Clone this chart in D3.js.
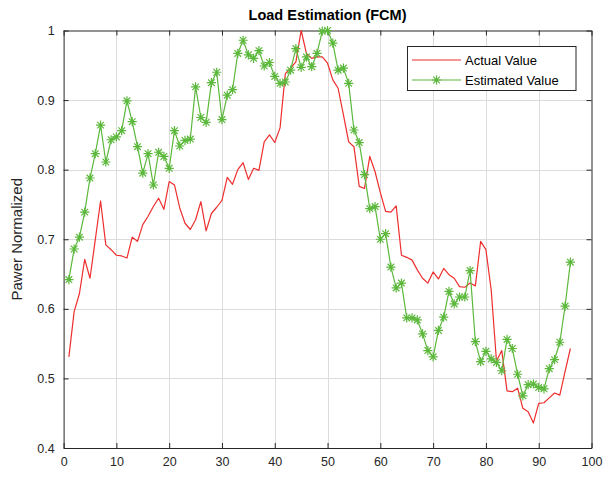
<!DOCTYPE html>
<html>
<head>
<meta charset="utf-8">
<script src="https://cdn.jsdelivr.net/npm/d3@7"></script>
<style>
  html, body { margin: 0; padding: 0; background: #fff; }
  svg { display: block; font-family: "Liberation Sans", Arial, Helvetica, sans-serif; }
</style>
</head>
<body>
<svg id="chart" width="604" height="479"></svg>
<script>
// Hourly samples 1..96 of normalized load
const actualValue = [
  0.531, 0.596, 0.622, 0.671, 0.644, 0.699, 0.755, 0.692, 0.685, 0.677,
  0.676, 0.673, 0.703, 0.697, 0.721, 0.733, 0.747, 0.759, 0.743, 0.783,
  0.778, 0.745, 0.723, 0.714, 0.728, 0.754, 0.712, 0.737, 0.746, 0.756,
  0.789, 0.779, 0.800, 0.810, 0.786, 0.802, 0.799, 0.840, 0.850, 0.839,
  0.860, 0.938, 0.946, 0.955, 1.000, 0.967, 0.960, 0.962, 0.962, 0.953,
  0.929, 0.917, 0.879, 0.840, 0.833, 0.776, 0.773, 0.819, 0.797, 0.767,
  0.740, 0.739, 0.748, 0.677, 0.674, 0.670, 0.656, 0.644, 0.637, 0.653,
  0.643, 0.658, 0.649, 0.644, 0.632, 0.631, 0.637, 0.633, 0.697, 0.685,
  0.627, 0.525, 0.540, 0.482, 0.481, 0.486, 0.457, 0.452, 0.436, 0.464,
  0.465, 0.472, 0.479, 0.476, 0.510, 0.543
];
const estimatedValue = [
  0.642, 0.686, 0.703, 0.739, 0.788, 0.823, 0.864, 0.811, 0.843, 0.847,
  0.856, 0.899, 0.869, 0.833, 0.795, 0.823, 0.778, 0.825, 0.819, 0.802,
  0.856, 0.834, 0.842, 0.844, 0.919, 0.875, 0.868, 0.925, 0.940, 0.872,
  0.907, 0.915, 0.967, 0.986, 0.965, 0.960, 0.971, 0.949, 0.954, 0.934,
  0.924, 0.926, 0.943, 0.974, 0.947, 0.962, 0.948, 0.967, 0.999, 1.000,
  0.982, 0.943, 0.946, 0.924, 0.857, 0.839, 0.793, 0.744, 0.747, 0.700,
  0.708, 0.660, 0.630, 0.637, 0.587, 0.587, 0.584, 0.564, 0.540, 0.531,
  0.569, 0.588, 0.625, 0.607, 0.617, 0.617, 0.655, 0.553, 0.524, 0.539,
  0.528, 0.523, 0.511, 0.556, 0.543, 0.506, 0.475, 0.491, 0.492, 0.487,
  0.485, 0.514, 0.527, 0.552, 0.604, 0.667
];
const xTicks = [0, 10, 20, 30, 40, 50, 60, 70, 80, 90, 100];
const yTicks = [0.4, 0.5, 0.6, 0.7, 0.8, 0.9, 1];
const seriesNames = ["Actual Value", "Estimated Value"];
const titleText = "Load Estimation (FCM)";
const yLabelText = "Pawer Normalized";

const svg = d3.select("#chart");
const m = { left: 63.6, right: 591.5, top: 30.5, bottom: 448 };
const axisColor = "#262626";
const redColor = "#ee2e2e";
const greenColor = "#5bb83b";

const x = d3.scaleLinear().domain([0, 100]).range([m.left, m.right]);
const y = d3.scaleLinear().domain([0.4, 1]).range([m.bottom, m.top]);

// grid
const grid = svg.append("g").attr("stroke", "#dcdcdc").attr("stroke-width", 1);
grid.selectAll(".gx").data(xTicks.slice(1, -1)).join("line")
  .attr("x1", d => Math.round(x(d)) + 0.5).attr("x2", d => Math.round(x(d)) + 0.5)
  .attr("y1", m.top).attr("y2", m.bottom);
grid.selectAll(".gy").data(yTicks.slice(1, -1)).join("line")
  .attr("y1", d => Math.round(y(d)) + 0.5).attr("y2", d => Math.round(y(d)) + 0.5)
  .attr("x1", m.left).attr("x2", m.right);

// axes (MATLAB style: inward ticks on all four sides)
const tickLen = 5;
const xAxisB = d3.axisBottom(x).tickValues(xTicks).tickSizeInner(-tickLen).tickSizeOuter(0).tickPadding(9).tickFormat(d3.format("d"));
const xAxisT = d3.axisTop(x).tickValues(xTicks).tickSizeInner(-tickLen).tickSizeOuter(0).tickFormat("");
const yAxisL = d3.axisLeft(y).tickValues(yTicks).tickSizeInner(-tickLen).tickSizeOuter(0).tickPadding(9).tickFormat(d => d === 1 ? "1" : d3.format(".1f")(d));
const yAxisR = d3.axisRight(y).tickValues(yTicks).tickSizeInner(-tickLen).tickSizeOuter(0).tickFormat("");

function styleAxis(g) {
  g.selectAll("path").attr("stroke", axisColor).attr("stroke-width", 1);
  g.selectAll("line").attr("stroke", axisColor);
  g.selectAll("text").attr("fill", axisColor).style("font-size", "12.5px")
    .style("font-family", "'Liberation Sans', Arial, sans-serif");
}
svg.append("g").attr("transform", `translate(0,${m.bottom})`).call(xAxisB).call(styleAxis);
svg.append("g").attr("transform", `translate(0,${m.top})`).call(xAxisT).call(styleAxis);
svg.append("g").attr("transform", `translate(${m.left},0)`).call(yAxisL).call(styleAxis);
svg.append("g").attr("transform", `translate(${m.right},0)`).call(yAxisR).call(styleAxis);

// series
const idx = d3.range(1, actualValue.length + 1);
const line = d3.line().x(d => x(d[0])).y(d => y(d[1]));

svg.append("path")
  .datum(idx.map((k, i) => [k, actualValue[i]]))
  .attr("fill", "none").attr("stroke", redColor).attr("stroke-width", 1.2)
  .attr("stroke-linejoin", "round").attr("d", line);

const estData = idx.map((k, i) => [k, estimatedValue[i]]);
svg.append("path")
  .datum(estData)
  .attr("fill", "none").attr("stroke", greenColor).attr("stroke-width", 1.2)
  .attr("stroke-linejoin", "round").attr("d", line);

// asterisk marker: + and x overlaid
function asterisk(r) {
  const d = r * 0.72;
  return `M${-r},0L${r},0M0,${-r}L0,${r}M${-d},${-d}L${d},${d}M${-d},${d}L${d},${-d}`;
}
svg.append("g").selectAll("path").data(estData).join("path")
  .attr("transform", d => `translate(${x(d[0])},${y(d[1])})`)
  .attr("d", asterisk(4.6))
  .attr("fill", "none").attr("stroke", greenColor).attr("stroke-width", 1.2);

// title and label
svg.append("text").attr("x", (m.left + m.right) / 2).attr("y", 20)
  .attr("text-anchor", "middle").attr("fill", "#000")
  .style("font-weight", "bold").style("font-size", "14.5px").text(titleText);

svg.append("text")
  .attr("transform", `translate(22,${(m.top + m.bottom) / 2}) rotate(-90)`)
  .attr("text-anchor", "middle").attr("fill", axisColor)
  .style("font-size", "15px").text(yLabelText);

// legend
const lg = svg.append("g");
lg.append("rect").attr("x", 407.5).attr("y", 46.5).attr("width", 168.5).attr("height", 44)
  .attr("fill", "#fff").attr("stroke", axisColor).attr("stroke-width", 1);
const rows = [
  { name: seriesNames[0], color: redColor, marker: false, yy: 60 },
  { name: seriesNames[1], color: greenColor, marker: true, yy: 80 }
];
rows.forEach(r => {
  lg.append("line").attr("x1", 412).attr("x2", 461).attr("y1", r.yy).attr("y2", r.yy)
    .attr("stroke", r.color).attr("stroke-width", 1.2);
  if (r.marker) {
    lg.append("path").attr("transform", `translate(436.5,${r.yy})`).attr("d", asterisk(4.6))
      .attr("fill", "none").attr("stroke", r.color).attr("stroke-width", 1.2);
  }
  lg.append("text").attr("x", 465).attr("y", r.yy).attr("dy", "0.36em")
    .attr("fill", "#000").style("font-size", "13px").text(r.name);
});
</script>
</body>
</html>
